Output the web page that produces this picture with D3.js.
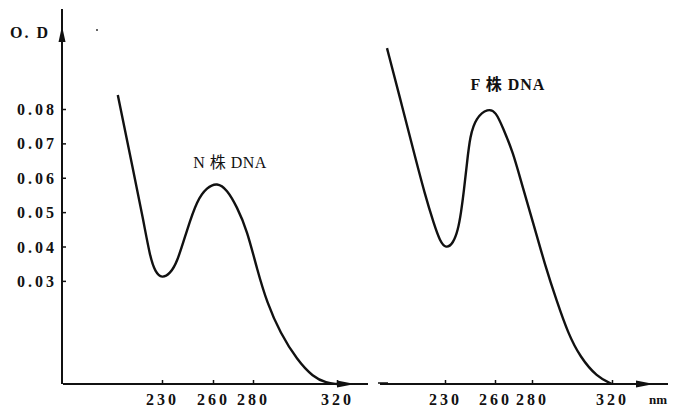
<!DOCTYPE html>
<html>
<head>
<meta charset="utf-8">
<script src="https://cdn.jsdelivr.net/npm/d3@7"></script>
<style>
  body { margin: 0; background: #fff; }
  svg text { font-family: "Liberation Serif", "DejaVu Serif", "Noto Sans CJK SC", serif; fill: #111; }
</style>
</head>
<body>
<div id="chart"></div>
<script>
// absorption spectra of two DNA samples
var wavelengthTicks = [230, 260, 280, 320];
var odTicks = [0.03, 0.04, 0.05, 0.06, 0.07, 0.08];

var nWavelength = [204, 213, 219, 223, 226, 230, 234.7, 238.8, 244.7, 250.6, 256.5, 262, 267, 272, 277, 282, 286.7, 293, 301, 308.6, 315, 320];
var nOD = [0.0841, 0.0623, 0.0477, 0.0369, 0.0326, 0.0307, 0.0321, 0.0352, 0.0448, 0.0535, 0.0572, 0.0586, 0.0566, 0.0515, 0.0448, 0.0332, 0.0236, 0.0148, 0.007, 0.002, 0.0003, 0];

var fWavelength = [195.2, 203, 210.8, 218, 223.4, 227, 230.6, 234.8, 237.8, 239.6, 241.4, 243.2, 245, 248.6, 255.8, 260.5, 264.3, 269.7, 274.6, 280.5, 286.5, 292.5, 298, 304, 312.5, 320];
var fOD = [0.0977, 0.0832, 0.0684, 0.055, 0.0465, 0.0415, 0.0394, 0.0408, 0.0448, 0.0497, 0.0564, 0.0643, 0.0721, 0.0775, 0.0802, 0.0792, 0.0745, 0.0675, 0.0579, 0.0471, 0.0346, 0.0239, 0.0148, 0.0079, 0.002, 0];

var width = 673, height = 415;

var svg = d3.select("#chart").append("svg")
	.attr("width", width)
	.attr("height", height);

var y = d3.scaleLinear().domain([0, 0.08]).range([384, 109]);

// the printed wavelength scale is not quite even, so map it piece by piece
var xLeft = d3.scaleLinear().domain(wavelengthTicks).range([162, 213, 253, 337]);
var xRight = d3.scaleLinear().domain(wavelengthTicks).range([445, 495, 532, 612]);

// y axis
var yAxis = d3.axisLeft(y)
	.tickValues(odTicks)
	.tickSize(-4)
	.tickPadding(5)
	.tickFormat(d3.format(".2f"));

var gy = svg.append("g")
	.attr("transform", "translate(62,0)")
	.call(yAxis);
gy.select(".domain").remove();
gy.selectAll(".tick line").attr("stroke", "#111").attr("stroke-width", 1.5);
gy.selectAll(".tick text")
	.style("font-size", "16px")
	.style("font-weight", "bold")
	.style("letter-spacing", "3px")
	.attr("dy", "0.35em");

svg.append("line")
	.attr("x1", 62).attr("x2", 62)
	.attr("y1", 9).attr("y2", 384)
	.attr("stroke", "#111").attr("stroke-width", 2);
svg.append("path")
	.attr("d", "M62,26 L58.5,42 L65.5,42 Z")
	.attr("fill", "#111");

svg.append("text")
	.attr("x", 10).attr("y", 38)
	.style("font-size", "16px")
	.style("font-weight", "bold")
	.style("letter-spacing", "2px")
	.text("O. D");

// x axes
function drawXAxis(scale, x0, x1, arrowX) {
	var ax = d3.axisBottom(scale)
		.tickValues(wavelengthTicks)
		.tickSize(-4)
		.tickPadding(10)
		.tickFormat(d3.format("d"));
	var g = svg.append("g")
		.attr("transform", "translate(0,384)")
		.call(ax);
	g.select(".domain").remove();
	g.selectAll(".tick line").attr("stroke", "#111").attr("stroke-width", 1.5);
	g.selectAll(".tick text")
		.style("font-size", "16px")
		.style("font-weight", "bold")
		.style("letter-spacing", "3px");
	svg.append("line")
		.attr("x1", x0).attr("x2", x1)
		.attr("y1", 384).attr("y2", 384)
		.attr("stroke", "#111").attr("stroke-width", 2);
	svg.append("path")
		.attr("d", "M" + (arrowX + 18) + ",384 L" + arrowX + ",380.5 L" + arrowX + ",387.5 Z")
		.attr("fill", "#111");
}
drawXAxis(xLeft, 63, 368, 337);
drawXAxis(xRight, 380, 668, 636);

svg.append("line")
	.attr("x1", 378).attr("x2", 388)
	.attr("y1", 383).attr("y2", 383)
	.attr("stroke", "#111").attr("stroke-width", 1.5);

svg.append("text")
	.attr("x", 649).attr("y", 404)
	.style("font-size", "13px")
	.style("font-weight", "bold")
	.text("nm");

// spectra, smoothed through the read-off points
function drawCurve(scale, wl, od) {
	var pts = wl.map(function(w, i) { return [w, od[i]]; });
	var line = d3.line()
		.x(d => scale(d[0]))
		.y(d => y(d[1]))
		.curve(d3.curveBasis);
	svg.append("path")
		.datum(pts)
		.attr("d", line)
		.attr("fill", "none")
		.attr("stroke", "#111")
		.attr("stroke-width", 2.4);
}
drawCurve(xLeft, nWavelength, nOD);
drawCurve(xRight, fWavelength, fOD);

svg.append("text")
	.attr("x", 230).attr("y", 168)
	.attr("text-anchor", "middle")
	.style("font-size", "16px")
	.style("letter-spacing", "0.5px")
	.text("N 株 DNA");

svg.append("text")
	.attr("x", 508).attr("y", 90)
	.attr("text-anchor", "middle")
	.style("font-size", "16px")
	.style("font-weight", "bold")
	.style("letter-spacing", "1px")
	.text("F 株  DNA");

// small speck in the scan
svg.append("circle")
	.attr("cx", 97).attr("cy", 30).attr("r", 1)
	.attr("fill", "#333");
</script>
</body>
</html>
